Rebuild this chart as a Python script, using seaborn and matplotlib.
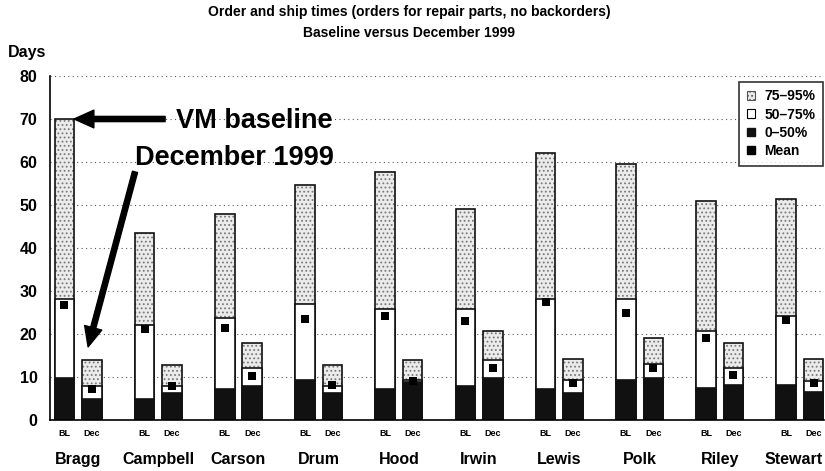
import numpy as np
import pandas as pd
import matplotlib
matplotlib.use("Agg")
import matplotlib.pyplot as plt
import matplotlib.transforms as mtransforms
import seaborn as sns
from matplotlib.patches import Patch
from matplotlib.lines import Line2D

# Data (days); two bars per installation: baseline, December 1999
bases = ["Bragg", "Campbell", "Carson", "Drum", "Hood",
         "Irwin", "Lewis", "Polk", "Riley", "Stewart"]
periods = ["BL", "Dec"]
p50_bl = [9.7, 4.8, 7.3, 9.3, 7.3, 7.9, 7.3, 9.3, 7.5, 8.1]
p75_bl = [28.1, 22.1, 23.8, 27.0, 25.7, 25.7, 28.2, 28.2, 20.8, 24.1]
p95_bl = [70.0, 43.5, 47.8, 54.6, 57.6, 49.0, 62.2, 59.5, 50.9, 51.5]
mean_bl = [26.7, 21.2, 21.3, 23.4, 24.3, 23.1, 27.5, 24.8, 19.1, 23.3]
p50_dec = [4.9, 6.2, 8.0, 6.2, 8.8, 9.8, 6.2, 9.8, 8.1, 6.4]
p75_dec = [7.9, 7.9, 12.2, 7.8, 9.3, 14.0, 9.3, 13.0, 12.2, 9.0]
p95_dec = [14.0, 12.8, 17.8, 12.8, 14.0, 20.8, 14.1, 19.1, 17.8, 14.3]
mean_dec = [7.3, 8.0, 10.3, 8.1, 9.0, 12.2, 8.5, 12.2, 10.4, 8.7]

df = pd.DataFrame({
    "base": bases * 2,
    "period": ["BL"] * 10 + ["Dec"] * 10,
    "p50": p50_bl + p50_dec,
    "p75": p75_bl + p75_dec,
    "p95": p95_bl + p95_dec,
    "mean": mean_bl + mean_dec,
})

sns.set_style("white")
plt.rcParams["font.family"] = ["Liberation Sans", "DejaVu Sans"]
plt.rcParams["font.weight"] = "bold"
plt.rcParams["text.color"] = "black"
plt.rcParams["xtick.color"] = "black"
plt.rcParams["ytick.color"] = "black"
plt.rcParams["hatch.linewidth"] = 0.8

fig = plt.figure(figsize=(8.25, 4.71), dpi=100)
ax = fig.add_axes([50 / 825, 1 - 420 / 471, 774 / 825, 344 / 471])

common = dict(data=df, x="base", hue="period", order=bases, hue_order=periods,
              width=0.684, gap=0.29, errorbar=None, saturation=1, legend=False, ax=ax)

# stacked layers: 75-95% (stippled), 50-75% (white), 0-50% (black)
sns.barplot(y="p95", palette=["#ebebeb", "#ebebeb"], edgecolor="#7a7a7a",
            linewidth=0, hatch="....", **common)
sns.barplot(y="p95", palette=["#111111", "#111111"], fill=False, linewidth=1.2, **common)
sns.barplot(y="p75", palette=["white", "white"], edgecolor="#111111", linewidth=1.2, **common)
n0 = len(ax.containers)
sns.barplot(y="p50", palette=["#111111", "#111111"], edgecolor="#111111", linewidth=1.2, **common)

# mean markers at the centres of the bars seaborn drew
for cont, per in zip(ax.containers[n0:], periods):
    xs = [p.get_x() + p.get_width() / 2 for p in cont.patches]
    ys = df.loc[df["period"] == per, "mean"].values
    ax.scatter(xs, ys, marker="s", s=36, color="black", zorder=5, linewidths=0)

# BL / Dec sub labels
for cont, per in zip(ax.containers[n0:], periods):
    for p in cont.patches:
        ax.text(p.get_x() + p.get_width() / 2, -0.038, per, transform=ax.get_xaxis_transform(),
                ha="center", va="center", fontsize=6.5, fontweight="bold")

ax.set_xlim(-0.35, 9.30)
ax.set_ylim(0, 80)
ax.set_yticks(np.arange(0, 81, 10))
ax.set_xticks(range(len(bases)))
ax.set_xticklabels(bases, fontsize=11.5, fontweight="bold")
ax.set_xticks(np.arange(-1 / 3, 9.3, 1 / 3), minor=True)
ax.tick_params(axis="x", which="major", length=3, width=1, pad=20)
ax.tick_params(axis="x", which="minor", length=3, width=1)
ax.tick_params(axis="y", length=6, width=1, labelsize=11.5, pad=3)
for lab in ax.get_yticklabels():
    lab.set_fontweight("bold")
# last group name sits a little left so it stays inside the figure
last = ax.get_xticklabels()[-1]
last.set_transform(last.get_transform() +
                   mtransforms.ScaledTranslation(-6 / 100, 0, fig.dpi_scale_trans))
ax.set_xlabel("")
ax.set_ylabel("")

ax.yaxis.grid(True, linestyle=(0, (1, 3)), color="#555555", linewidth=0.8)
ax.set_axisbelow(True)
for s in ["top", "right"]:
    ax.spines[s].set_visible(False)
for s in ["left", "bottom"]:
    ax.spines[s].set_color("black")
    ax.spines[s].set_linewidth(1.2)

# annotations
arrow = dict(arrowstyle="simple,head_length=0.95,head_width=0.85,tail_width=0.25",
             color="black", mutation_scale=15, shrinkA=0, shrinkB=0)
ax.annotate("", xy=(-0.05, 70), xytext=(1.085, 70), arrowprops=arrow)
ax.annotate("", xy=(0.125, 17.0), xytext=(0.71, 57.7), arrowprops=arrow)
ax.text(1.222, 67.9, "VM baseline", fontsize=19.5, fontweight="bold", va="baseline", ha="left")
ax.text(0.71, 59.3, "December 1999", fontsize=19.5, fontweight="bold", va="baseline", ha="left")

handles = [
    Patch(facecolor="#ebebeb", edgecolor="#555555", hatch="....", linewidth=0.8),
    Patch(facecolor="white", edgecolor="black", linewidth=0.8),
    Patch(facecolor="#111111", edgecolor="#111111"),
    Line2D([], [], marker="s", color="black", linestyle="none", markersize=6),
]
leg = ax.legend(handles, ["75\u201395%", "50\u201375%", "0\u201350%", "Mean"],
                loc="upper right", bbox_to_anchor=(0.999, 0.983), borderaxespad=0,
                prop={"size": 10, "weight": "bold"}, frameon=True, fancybox=False,
                handlelength=0.6, handleheight=0.6, handletextpad=0.7,
                labelspacing=0.3, borderpad=0.55)
leg.get_frame().set_edgecolor("black")
leg.get_frame().set_linewidth(1.2)

fig.text(0.496, 1 - 12 / 471, "Order and ship times (orders for repair parts, no backorders)",
         ha="center", va="center", fontsize=10, fontweight="bold")
fig.text(0.496, 1 - 33 / 471, "Baseline versus December 1999",
         ha="center", va="center", fontsize=10, fontweight="bold")
fig.text(8 / 825, 1 - 52 / 471, "Days", ha="left", va="center", fontsize=11.5, fontweight="bold")

fig.savefig("out.png", dpi=100)
